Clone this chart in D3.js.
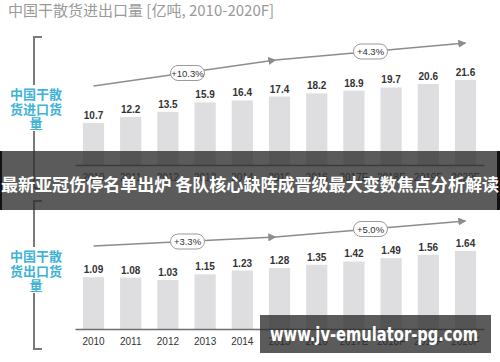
<!DOCTYPE html>
<html>
<head>
<meta charset="utf-8">
<script src="https://cdn.jsdelivr.net/npm/d3@7"></script>
<style>
  body { margin: 0; background: #fff; }
  svg { display: block; font-family: Arial, "Liberation Sans", "Noto Sans CJK SC", sans-serif; }
</style>
</head>
<body>
<svg id="chart" width="500" height="362"></svg>
<script>
// data
var years = ["2010", "2011", "2012", "2013", "2014", "2015", "2016", "2017E", "2018F", "2019F", "2020F"];
var importVals = [10.7, 12.2, 13.5, 15.9, 16.4, 17.4, 18.2, 18.9, 19.7, 20.6, 21.6];
var exportVals = [1.09, 1.08, 1.03, 1.15, 1.23, 1.28, 1.35, 1.42, 1.49, 1.56, 1.64];
var importGrowth = ["+10.3%", "+4.3%"];
var exportGrowth = ["+3.3%", "+5.0%"];
var panelLabels = [["中国干散", "货进口货", "量"], ["中国干散", "货出口货", "量"]];
var title = "中国干散货进出口量 [亿吨, 2010-2020F]";
var bannerText = "最新亚冠伤停名单出炉 各队核心缺阵成晋级最大变数焦点分析解读";
var watermark = "www.jv-emulator-pg.com";

var svg = d3.select("#chart");
var cjk = "'Noto Sans CJK SC', sans-serif";

var x = d3.scaleBand()
    .domain(years)
    .range([75, 484])
    .paddingInner(0.43)
    .paddingOuter(0.2125);

// title
svg.append("text")
    .attr("x", 8).attr("y", 16)
    .style("font-family", cjk)
    .style("font-size", "15px")
    .attr("fill", "#9a9a9a")
    .text(title);

// arrow marker
svg.append("defs").append("marker")
    .attr("id", "tri")
    .attr("viewBox", "0 0 10 10")
    .attr("refX", 9).attr("refY", 5)
    .attr("markerWidth", 8).attr("markerHeight", 8)
    .attr("markerUnits", "userSpaceOnUse")
    .attr("orient", "auto")
    .append("path")
    .attr("d", "M0,0L10,5L0,10Z")
    .attr("fill", "#8c8c8c");

function drawPanel(opts) {
    var g = svg.append("g");
    var y = d3.scaleLinear().domain([0, opts.max]).range([opts.base, opts.top]);

    // bracket on the left
    g.append("path")
        .attr("d", "M42," + opts.brTop + "H34V" + opts.brBot + "H42")
        .attr("fill", "none")
        .attr("stroke", "#7a7a7a")
        .attr("stroke-width", 2);
    g.append("rect")
        .attr("x", 12).attr("y", opts.labelY - 10)
        .attr("width", 50).attr("height", 46)
        .attr("fill", "#fff");
    g.selectAll(".lab")
        .data(opts.label).enter()
        .append("text")
        .attr("x", 36)
        .attr("y", function(d, i) { return opts.labelY + 4 + i * 14.5; })
        .attr("text-anchor", "middle")
        .style("font-family", cjk)
        .style("font-size", "13px")
        .style("font-weight", "bold")
        .attr("fill", "#3fb3d6")
        .text(function(d) { return d; });

    // bars
    g.selectAll(".bar")
        .data(opts.values).enter()
        .append("rect")
        .attr("x", function(d, i) { return x(years[i]); })
        .attr("y", function(d) { return y(d); })
        .attr("width", x.bandwidth())
        .attr("height", function(d) { return opts.base - y(d); })
        .attr("fill", "#dedee1");

    g.selectAll(".val")
        .data(opts.values).enter()
        .append("text")
        .attr("x", function(d, i) { return x(years[i]) + x.bandwidth() / 2; })
        .attr("y", function(d) { return y(d) - 4; })
        .attr("text-anchor", "middle")
        .style("font-size", "10px")
        .style("font-weight", "bold")
        .attr("fill", "#333")
        .text(function(d) { return opts.fmt(d); });

    // axis
    var ax = g.append("g")
        .attr("transform", "translate(0," + opts.base + ")")
        .call(d3.axisBottom(x).tickSize(0).tickSizeOuter(0).tickPadding(9));
    ax.select(".domain").attr("stroke", "#6e6e6e").attr("stroke-width", 1.5);
    ax.selectAll("text")
        .style("font-size", "10px")
        .style("font-family", "Arial, 'Liberation Sans', sans-serif")
        .attr("fill", "#333");

    // growth arrows
    var cx = function(i) { return x(years[i]) + x.bandwidth() / 2; };
    var pts = [[cx(0), opts.arrowY[0]], [cx(5) - 4, opts.arrowY[1]], [cx(10), opts.arrowY[2]]];
    for (var s = 0; s < 2; s++) {
        g.append("line")
            .attr("x1", pts[s][0] + (s ? 0 : 0)).attr("y1", pts[s][1])
            .attr("x2", pts[s + 1][0]).attr("y2", pts[s + 1][1])
            .attr("stroke", "#8c8c8c")
            .attr("stroke-width", 1.3)
            .attr("marker-end", "url(#tri)");
        var mx = (pts[s][0] + pts[s + 1][0]) / 2 + (s ? 0 : 3);
        var my = (pts[s][1] + pts[s + 1][1]) / 2;
        g.append("rect")
            .attr("x", mx - 17).attr("y", my - 7.5)
            .attr("width", 34).attr("height", 15)
            .attr("rx", 7.5)
            .attr("fill", "#fff")
            .attr("stroke", "#9a9a9a");
        g.append("text")
            .attr("x", mx).attr("y", my + 3.5)
            .attr("text-anchor", "middle")
            .style("font-size", "9.5px")
            .attr("fill", "#333")
            .text(opts.growth[s]);
    }
}

drawPanel({
    values: importVals, max: 21.6, base: 165, top: 80,
    brTop: 37, brBot: 188, labelY: 95,
    label: panelLabels[0], growth: importGrowth,
    arrowY: [86, 60, 43],
    fmt: d3.format(".1f")
});

drawPanel({
    values: exportVals, max: 1.64, base: 329, top: 251,
    brTop: 201, brBot: 349, labelY: 257,
    label: panelLabels[1], growth: exportGrowth,
    arrowY: [246, 237, 221],
    fmt: d3.format(".2f")
});

// overlay banner
svg.append("rect")
    .attr("x", 0).attr("y", 151)
    .attr("width", 500).attr("height", 59)
    .attr("fill", "rgba(45,45,45,0.78)");
svg.append("rect").attr("x", 0).attr("y", 151).attr("width", 2).attr("height", 59).attr("fill", "#111");
svg.append("rect").attr("x", 497).attr("y", 151).attr("width", 3).attr("height", 59).attr("fill", "#111");
svg.append("text")
    .attr("x", 250).attr("y", 191)
    .attr("text-anchor", "middle")
    .attr("textLength", 498)
    .attr("lengthAdjust", "spacingAndGlyphs")
    .style("font-family", cjk)
    .style("font-size", "17px")
    .style("font-weight", "bold")
    .attr("fill", "#fff")
    .text(bannerText);

// watermark box
svg.append("rect")
    .attr("x", 260).attr("y", 315)
    .attr("width", 231).attr("height", 38)
    .attr("fill", "rgba(45,45,45,0.78)");
svg.append("text")
    .attr("x", 374).attr("y", 341)
    .attr("text-anchor", "middle")
    .attr("textLength", 208)
    .attr("lengthAdjust", "spacingAndGlyphs")
    .style("font-family", "'DejaVu Sans', sans-serif")
    .style("font-size", "19px")
    .style("font-weight", "bold")
    .attr("fill", "#fff")
    .text(watermark);
</script>
</body>
</html>
